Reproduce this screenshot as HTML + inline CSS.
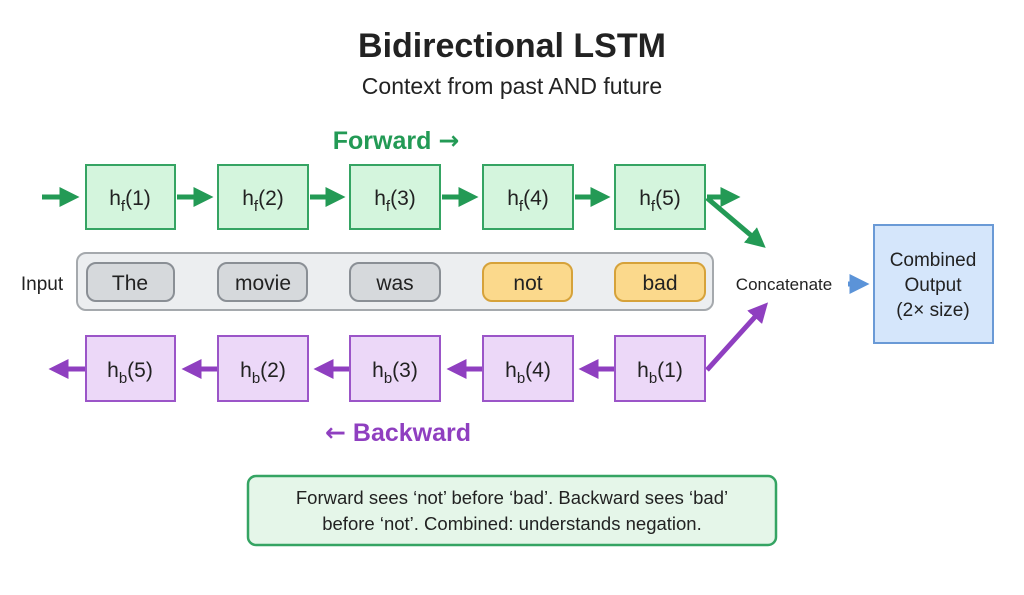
<!DOCTYPE html>
<html><head><meta charset="utf-8"><style>
body{margin:0;background:#fff;}
svg text{font-family:"Liberation Sans",sans-serif;}
</style></head><body>
<svg width="1024" height="590" xmlns="http://www.w3.org/2000/svg">
<defs>
<marker id="g" markerWidth="4" markerHeight="4" refX="2.5" refY="2" orient="auto"><path d="M0,0L4,2L0,4z" fill="#239a55"/></marker>
<marker id="p" markerWidth="4" markerHeight="4" refX="2.5" refY="2" orient="auto"><path d="M0,0L4,2L0,4z" fill="#8f3fc0"/></marker>
<marker id="b" markerWidth="4" markerHeight="4" refX="2.5" refY="2" orient="auto"><path d="M0,0L4,2L0,4z" fill="#5b93d8"/></marker>
</defs>
<text x="512" y="57" text-anchor="middle" font-size="34" font-weight="bold" fill="#222">Bidirectional LSTM</text>
<text x="512" y="94" text-anchor="middle" font-size="23" fill="#222">Context from past AND future</text>
<text x="396" y="149" text-anchor="middle" font-size="25" font-weight="bold" fill="#239a55">Forward <tspan style="font-family:'DejaVu Sans',sans-serif" font-weight="bold">→</tspan></text>
<text x="398" y="441" text-anchor="middle" font-size="25" font-weight="bold" fill="#8f3fc0"><tspan style="font-family:'DejaVu Sans',sans-serif" font-weight="bold">←</tspan> Backward</text>

<g stroke="#239a55" stroke-width="5" fill="none">
<line x1="42" y1="197" x2="72" y2="197" marker-end="url(#g)"/>
<line x1="177" y1="197" x2="206" y2="197" marker-end="url(#g)"/>
<line x1="310" y1="197" x2="338" y2="197" marker-end="url(#g)"/>
<line x1="442" y1="197" x2="471" y2="197" marker-end="url(#g)"/>
<line x1="575" y1="197" x2="603" y2="197" marker-end="url(#g)"/>
<line x1="707" y1="197" x2="733" y2="197" marker-end="url(#g)"/>
<line x1="707" y1="198" x2="760" y2="243" marker-end="url(#g)"/>
</g>
<g stroke="#8f3fc0" stroke-width="5" fill="none">
<line x1="85" y1="369" x2="56" y2="369" marker-end="url(#p)"/>
<line x1="218" y1="369" x2="189" y2="369" marker-end="url(#p)"/>
<line x1="350" y1="369" x2="321" y2="369" marker-end="url(#p)"/>
<line x1="483" y1="369" x2="454" y2="369" marker-end="url(#p)"/>
<line x1="615" y1="369" x2="586" y2="369" marker-end="url(#p)"/>
<line x1="707" y1="370" x2="763" y2="308" marker-end="url(#p)"/>
</g>
<line x1="848" y1="284" x2="862" y2="284" stroke="#5b93d8" stroke-width="5" marker-end="url(#b)"/>

<g stroke="#35a463" stroke-width="2" fill="#d4f5dd">
<rect x="86" y="165" width="89" height="64"/><rect x="218" y="165" width="90" height="64"/><rect x="350" y="165" width="90" height="64"/><rect x="483" y="165" width="90" height="64"/><rect x="615" y="165" width="90" height="64"/>
</g>
<g stroke="#9b55c8" stroke-width="2" fill="#ecd8f8">
<rect x="86" y="336" width="89" height="65"/><rect x="218" y="336" width="90" height="65"/><rect x="350" y="336" width="90" height="65"/><rect x="483" y="336" width="90" height="65"/><rect x="615" y="336" width="90" height="65"/>
</g>
<g font-size="21" fill="#222" text-anchor="middle">
<text x="130" y="205">h<tspan font-size="15" dy="6">f</tspan><tspan dy="-6">(1)</tspan></text>
<text x="263" y="205">h<tspan font-size="15" dy="6">f</tspan><tspan dy="-6">(2)</tspan></text>
<text x="395" y="205">h<tspan font-size="15" dy="6">f</tspan><tspan dy="-6">(3)</tspan></text>
<text x="528" y="205">h<tspan font-size="15" dy="6">f</tspan><tspan dy="-6">(4)</tspan></text>
<text x="660" y="205">h<tspan font-size="15" dy="6">f</tspan><tspan dy="-6">(5)</tspan></text>
<text x="130" y="377">h<tspan font-size="15" dy="6">b</tspan><tspan dy="-6">(5)</tspan></text>
<text x="263" y="377">h<tspan font-size="15" dy="6">b</tspan><tspan dy="-6">(2)</tspan></text>
<text x="395" y="377">h<tspan font-size="15" dy="6">b</tspan><tspan dy="-6">(3)</tspan></text>
<text x="528" y="377">h<tspan font-size="15" dy="6">b</tspan><tspan dy="-6">(4)</tspan></text>
<text x="660" y="377">h<tspan font-size="15" dy="6">b</tspan><tspan dy="-6">(1)</tspan></text>
</g>

<rect x="77" y="253" width="636" height="57" rx="9" fill="#eceef0" stroke="#a5a9ad" stroke-width="2"/>
<g stroke="#8a8f95" stroke-width="2" fill="#d6d9dc">
<rect x="87" y="263" width="87" height="38" rx="9"/><rect x="218" y="263" width="89" height="38" rx="9"/><rect x="350" y="263" width="90" height="38" rx="9"/>
</g>
<g stroke="#d6a23a" stroke-width="2" fill="#fbd98c">
<rect x="483" y="263" width="89" height="38" rx="9"/><rect x="615" y="263" width="90" height="38" rx="9"/>
</g>
<g font-size="21" fill="#222" text-anchor="middle">
<text x="130" y="290">The</text><text x="263" y="290">movie</text><text x="395" y="290">was</text><text x="528" y="290">not</text><text x="660" y="290">bad</text>
</g>
<text x="42" y="290" text-anchor="middle" font-size="19" fill="#222">Input</text>
<text x="784" y="290" text-anchor="middle" font-size="17" fill="#222">Concatenate</text>

<rect x="874" y="225" width="119" height="118" fill="#d5e6fb" stroke="#6a9ad6" stroke-width="2"/>
<g font-size="19" fill="#222" text-anchor="middle">
<text x="933" y="266">Combined</text><text x="933" y="291">Output</text><text x="933" y="316">(2× size)</text>
</g>

<rect x="248" y="476" width="528" height="69" rx="8" fill="#e5f6e9" stroke="#35a463" stroke-width="2.5"/>
<g font-size="18.5" fill="#222" text-anchor="middle">
<text x="512" y="504">Forward sees ‘not’ before ‘bad’. Backward sees ‘bad’</text>
<text x="512" y="530">before ‘not’. Combined: understands negation.</text>
</g>
</svg>
</body></html>
